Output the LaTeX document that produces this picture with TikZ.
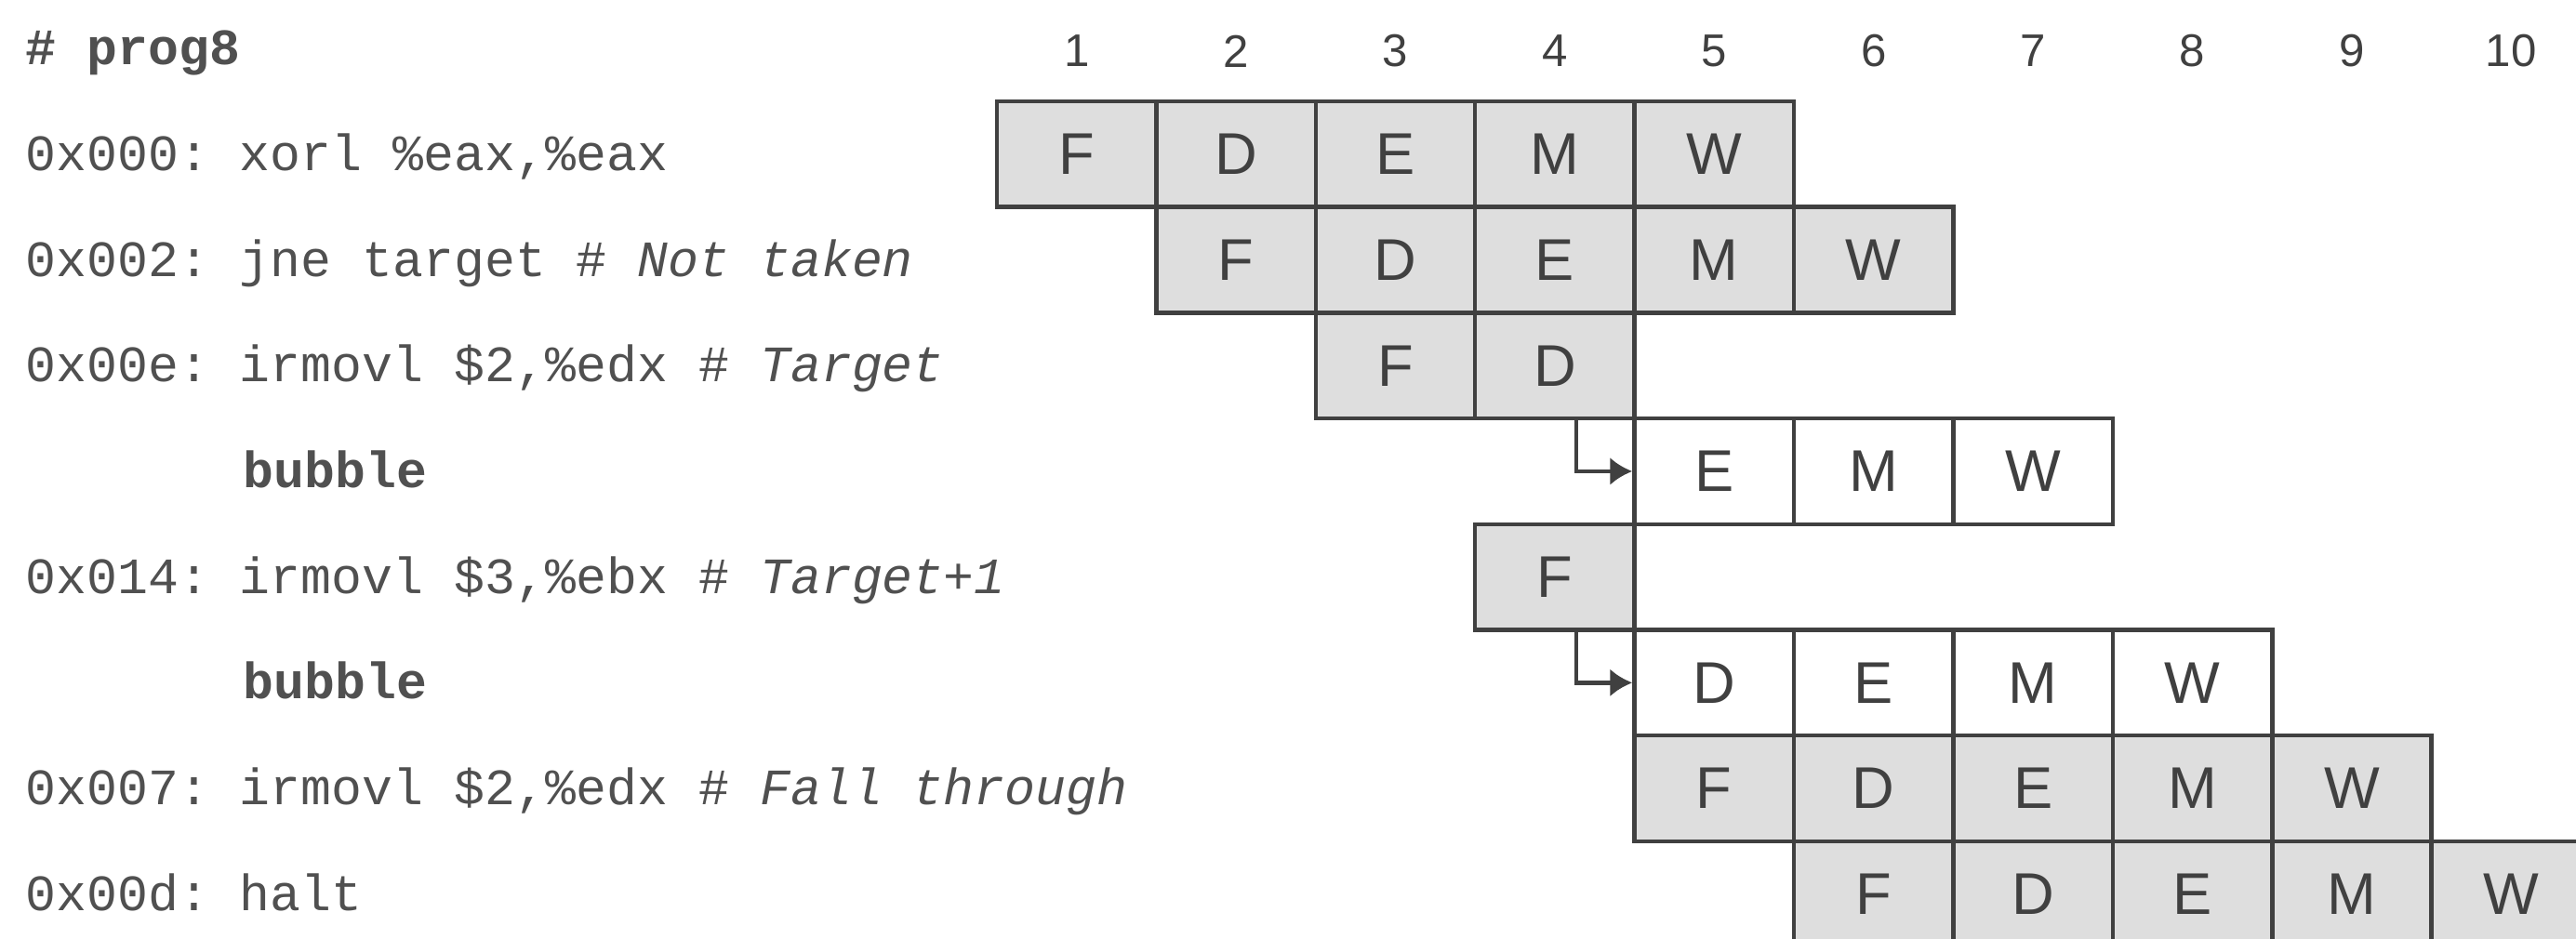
\documentclass[tikz,border=0pt]{standalone}
\usepackage{fontspec}
\setmainfont{Liberation Sans}
\setmonofont{Liberation Mono}
\usetikzlibrary{arrows.meta,positioning}
\definecolor{inkgray}{HTML}{404040}
\definecolor{textgray}{HTML}{505050}
\definecolor{stagefill}{HTML}{DEDEDE}
\tikzset{
  stagecell/.style={draw=inkgray, line width=1.3pt, minimum width=1.714cm, minimum height=1.137cm, inner sep=0pt, font=\fontsize{18}{20}\selectfont, text=inkgray},
  cyclenum/.style={font=\fontsize{14}{16}\selectfont, text=inkgray},
  codeline/.style={anchor=base west, inner sep=0pt, font=\ttfamily\fontsize{15.6}{18}\selectfont, text=textgray},
  stall/.style={inkgray, line width=1.3pt, -{Latex[length=0.24cm, width=0.3cm]}}
}

\begin{document}
\begin{tikzpicture}
  \useasboundingbox (0,0) rectangle (27.7,-10.1);
  % clock cycles
  \foreach \c in {1,...,10}{
    \node[cyclenum] (cyc\c) at ({10.72+(\c-0.5)*1.714},-0.55) {\c};
  }
  % program listing
  \node[codeline] (prog) at (0.27,-0.69) {\bfseries \# prog8};
  \node[codeline] (i1) at (0.27,-1.83) {0x000: xorl \%eax,\%eax};
  \node[codeline] (i2) at (0.27,-2.97) {0x002: jne target \# \textit{Not taken}};
  \node[codeline] (i3) at (0.27,-4.10) {0x00e: irmovl \$2,\%edx \# \textit{Target}};
  \node[codeline] (b1) at (2.61,-5.24) {\bfseries bubble};
  \node[codeline] (i4) at (0.27,-6.38) {0x014: irmovl \$3,\%ebx \# \textit{Target+1}};
  \node[codeline] (b2) at (2.61,-7.51) {\bfseries bubble};
  \node[codeline] (i5) at (0.27,-8.65) {0x007: irmovl \$2,\%edx \# \textit{Fall through}};
  \node[codeline] (i6) at (0.27,-9.79) {0x00d: halt};
  % pipeline stages: row/first cycle/stages/fill
  \foreach \r/\c/\stages/\tone in {1/1/{F,D,E,M,W}/stagefill, 2/2/{F,D,E,M,W}/stagefill,
      3/3/{F,D}/stagefill, 4/5/{E,M,W}/white, 5/4/{F}/stagefill,
      6/5/{D,E,M,W}/white, 7/5/{F,D,E,M,W}/stagefill, 8/6/{F,D,E,M,W}/stagefill}{
    \foreach \s [count=\k from 0] in \stages{
      \node[stagecell, fill=\tone] (r\r\s) at ({10.72+(\c+\k-0.5)*1.714},{-(1.09+(\r-0.5)*1.137)}) {\s};
    }
  }
  % injected bubbles
  \draw[stall] ([xshift=0.23cm]r3D.south) |- (r4E.west);
  \draw[stall] ([xshift=0.23cm]r5F.south) |- (r6D.west);
\end{tikzpicture}
\end{document}
